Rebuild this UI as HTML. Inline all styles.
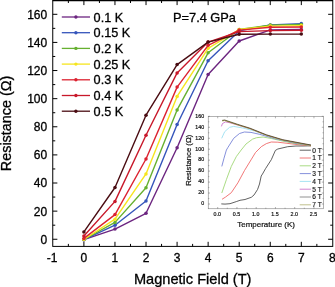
<!DOCTYPE html>
<html><head><meta charset="utf-8"><title>chart</title>
<style>html,body{margin:0;padding:0;background:#fff;}body{width:335px;height:287px;overflow:hidden;font-family:"Liberation Sans",sans-serif;}</style></head>
<body>
<svg width="335" height="287" viewBox="0 0 335 287" style="display:block;will-change:transform;transform:translateZ(0);font-family:'Liberation Sans',sans-serif">
<rect width="335" height="287" fill="#fff"/>
<rect x="208.2" y="116.5" width="115.40000000000003" height="92.30000000000001" fill="#fff" stroke="#666" stroke-width="0.5"/>
<path d="M217.70 208.8v-1.8M217.70 116.5v1.8M227.32 208.8v-1.1M227.32 116.5v1.1M236.95 208.8v-1.8M236.95 116.5v1.8M246.57 208.8v-1.1M246.57 116.5v1.1M256.20 208.8v-1.8M256.20 116.5v1.8M265.82 208.8v-1.1M265.82 116.5v1.1M275.45 208.8v-1.8M275.45 116.5v1.8M285.07 208.8v-1.1M285.07 116.5v1.1M294.70 208.8v-1.8M294.70 116.5v1.8M304.32 208.8v-1.1M304.32 116.5v1.1M313.95 208.8v-1.8M313.95 116.5v1.8M208.2 204.00h1.8M323.6 204.00h-1.8M208.2 198.52h1.1M323.6 198.52h-1.1M208.2 193.04h1.8M323.6 193.04h-1.8M208.2 187.56h1.1M323.6 187.56h-1.1M208.2 182.08h1.8M323.6 182.08h-1.8M208.2 176.60h1.1M323.6 176.60h-1.1M208.2 171.12h1.8M323.6 171.12h-1.8M208.2 165.64h1.1M323.6 165.64h-1.1M208.2 160.16h1.8M323.6 160.16h-1.8M208.2 154.68h1.1M323.6 154.68h-1.1M208.2 149.20h1.8M323.6 149.20h-1.8M208.2 143.72h1.1M323.6 143.72h-1.1M208.2 138.24h1.8M323.6 138.24h-1.8M208.2 132.76h1.1M323.6 132.76h-1.1M208.2 127.28h1.8M323.6 127.28h-1.8M208.2 121.80h1.1M323.6 121.80h-1.1M208.2 116.32h1.8M323.6 116.32h-1.8" stroke="#666" stroke-width="0.5" fill="none"/>
<g font-size="5.3" fill="#111" stroke="#111" stroke-width="0.2">
<text x="204.2" y="205.30" text-anchor="end">0</text>
<text x="204.2" y="194.34" text-anchor="end">20</text>
<text x="204.2" y="183.38" text-anchor="end">40</text>
<text x="204.2" y="172.42" text-anchor="end">60</text>
<text x="204.2" y="161.46" text-anchor="end">80</text>
<text x="204.2" y="150.50" text-anchor="end">100</text>
<text x="204.2" y="139.54" text-anchor="end">120</text>
<text x="204.2" y="128.58" text-anchor="end">140</text>
<text x="204.2" y="117.62" text-anchor="end">160</text>
<text x="217.30" y="215.6" text-anchor="middle">0.0</text>
<text x="236.55" y="215.6" text-anchor="middle">0.5</text>
<text x="255.80" y="215.6" text-anchor="middle">1.0</text>
<text x="275.05" y="215.6" text-anchor="middle">1.5</text>
<text x="294.30" y="215.6" text-anchor="middle">2.0</text>
<text x="313.55" y="215.6" text-anchor="middle">2.5</text>
</g>
<text x="266.1" y="227.1" font-size="8.0" text-anchor="middle" fill="#111" stroke="#111" stroke-width="0.2">Temperature (K)</text>
<text transform="translate(190.5,160.3) rotate(-90)" font-size="7.7" text-anchor="middle" fill="#111" stroke="#111" stroke-width="0.2">Resistance (Ω)</text>
<path d="M221.3 203.9 L225.0 204.1 L230.0 203.7 L236.3 201.6 L240.0 200.3 L245.0 199.5 L251.3 197.3 L254.0 195.0 L257.6 189.4 L259.5 184.0 L261.2 176.0 L262.5 174.0 L265.5 168.7 L271.3 159.7 L275.4 150.4 L277.8 149.0 L287.7 146.7 L296.0 146.0 L303.0 146.0 L311.0 145.8" stroke="#3a3a3a" stroke-width="0.8" fill="none" stroke-linejoin="round"/>
<path d="M222.0 199.3 L225.6 197.0 L231.3 192.7 L237.9 182.8 L244.5 170.5 L251.0 159.9 L255.5 152.5 L261.4 146.6 L266.4 143.6 L271.3 142.0 L277.8 142.2 L286.1 143.2 L299.3 144.8 L311.0 145.8" stroke="#ee5555" stroke-width="0.8" fill="none" stroke-linejoin="round"/>
<path d="M221.8 193.0 L226.4 179.6 L231.3 166.4 L236.3 156.6 L241.2 150.0 L246.0 144.0 L252.6 139.1 L256.6 137.7 L263.1 137.0 L271.3 138.5 L282.8 141.1 L294.3 143.4 L311.0 145.6" stroke="#94d264" stroke-width="0.8" fill="none" stroke-linejoin="round"/>
<path d="M221.8 166.4 L224.0 158.2 L226.4 150.0 L228.0 147.3 L233.7 138.3 L239.5 133.5 L244.4 132.0 L251.0 132.4 L259.9 134.4 L274.6 138.6 L294.3 143.0 L311.0 145.5" stroke="#6674d2" stroke-width="0.8" fill="none" stroke-linejoin="round"/>
<path d="M221.7 138.3 L224.7 131.7 L229.6 127.3 L233.7 126.4 L242.8 128.0 L254.3 130.9 L266.4 135.3 L282.8 140.4 L311.0 145.4" stroke="#8fdcf0" stroke-width="0.8" fill="none" stroke-linejoin="round"/>
<path d="M221.4 126.4 L222.5 123.5 L225.5 121.9 L230.0 122.8 L237.8 125.1 L250.0 128.7 L266.4 135.1 L282.8 140.1 L311.0 145.3" stroke="#c565c5" stroke-width="0.8" fill="none" stroke-linejoin="round"/>
<path d="M222.2 120.9 L224.7 120.5 L237.8 124.9 L250.0 128.7 L266.4 135.3 L282.8 140.2 L305.0 144.4 L311.0 145.5" stroke="#a8a040" stroke-width="0.9" fill="none"/>
<path d="M222.2 120.4 L224.7 120.0 L237.8 124.4 L250.0 128.2 L266.4 134.8 L282.8 139.7 L305.0 143.9 L311.0 145.0" stroke="#3c3418" stroke-width="0.7" fill="none"/>
<g font-size="6.6" fill="#111">
<path d="M299.7 150.20H310.9" stroke="#3a3a3a" stroke-width="0.8"/>
<text x="312.3" y="152.55" stroke="#111" stroke-width="0.15">0 T</text>
<path d="M299.7 158.00H310.9" stroke="#ee5555" stroke-width="0.8"/>
<text x="312.3" y="160.35" stroke="#111" stroke-width="0.15">1 T</text>
<path d="M299.7 165.80H310.9" stroke="#94d264" stroke-width="0.8"/>
<text x="312.3" y="168.15" stroke="#111" stroke-width="0.15">2 T</text>
<path d="M299.7 173.60H310.9" stroke="#6674d2" stroke-width="0.8"/>
<text x="312.3" y="175.95" stroke="#111" stroke-width="0.15">3 T</text>
<path d="M299.7 181.40H310.9" stroke="#8fdcf0" stroke-width="0.8"/>
<text x="312.3" y="183.75" stroke="#111" stroke-width="0.15">4 T</text>
<path d="M299.7 189.20H310.9" stroke="#c565c5" stroke-width="0.8"/>
<text x="312.3" y="191.55" stroke="#111" stroke-width="0.15">5 T</text>
<path d="M299.7 197.00H310.9" stroke="#777777" stroke-width="0.8"/>
<text x="312.3" y="199.35" stroke="#111" stroke-width="0.15">6 T</text>
<path d="M299.7 204.80H310.9" stroke="#b0b070" stroke-width="0.8"/>
<text x="312.3" y="207.15" stroke="#111" stroke-width="0.15">7 T</text>
</g>
<rect x="52.75" y="0.5" width="280.0" height="245.9" fill="none" stroke="#000" stroke-width="1"/>
<path d="M52.75 0.6H332.75" stroke="#000" stroke-width="1.2"/>
<path d="M68.37 246.4v-2.5M68.37 0.5v2.5M83.90 246.4v-4.6M83.90 0.5v4.6M99.43 246.4v-2.5M99.43 0.5v2.5M114.96 246.4v-4.6M114.96 0.5v4.6M130.49 246.4v-2.5M130.49 0.5v2.5M146.02 246.4v-4.6M146.02 0.5v4.6M161.55 246.4v-2.5M161.55 0.5v2.5M177.08 246.4v-4.6M177.08 0.5v4.6M192.61 246.4v-2.5M192.61 0.5v2.5M208.14 246.4v-4.6M208.14 0.5v4.6M223.67 246.4v-2.5M223.67 0.5v2.5M239.20 246.4v-4.6M239.20 0.5v4.6M254.73 246.4v-2.5M254.73 0.5v2.5M270.26 246.4v-4.6M270.26 0.5v4.6M285.79 246.4v-2.5M285.79 0.5v2.5M301.32 246.4v-4.6M301.32 0.5v4.6M316.85 246.4v-2.5M316.85 0.5v2.5M52.75 239.25h4.6M332.75 239.25h-4.6M52.75 225.19h2.5M332.75 225.19h-2.5M52.75 211.13h4.6M332.75 211.13h-4.6M52.75 197.07h2.5M332.75 197.07h-2.5M52.75 183.01h4.6M332.75 183.01h-4.6M52.75 168.95h2.5M332.75 168.95h-2.5M52.75 154.90h4.6M332.75 154.90h-4.6M52.75 140.84h2.5M332.75 140.84h-2.5M52.75 126.78h4.6M332.75 126.78h-4.6M52.75 112.72h2.5M332.75 112.72h-2.5M52.75 98.66h4.6M332.75 98.66h-4.6M52.75 84.60h2.5M332.75 84.60h-2.5M52.75 70.54h4.6M332.75 70.54h-4.6M52.75 56.48h2.5M332.75 56.48h-2.5M52.75 42.42h4.6M332.75 42.42h-4.6M52.75 28.37h2.5M332.75 28.37h-2.5M52.75 14.31h4.6M332.75 14.31h-4.6" stroke="#000" stroke-width="1" fill="none"/>
<g font-size="12" fill="#000" stroke="#000" stroke-width="0.3">
<text x="47.2" y="243.65" text-anchor="end">0</text>
<text x="47.2" y="215.53" text-anchor="end">20</text>
<text x="47.2" y="187.41" text-anchor="end">40</text>
<text x="47.2" y="159.30" text-anchor="end">60</text>
<text x="47.2" y="131.18" text-anchor="end">80</text>
<text x="47.2" y="103.06" text-anchor="end">100</text>
<text x="47.2" y="74.94" text-anchor="end">120</text>
<text x="47.2" y="46.82" text-anchor="end">140</text>
<text x="47.2" y="18.71" text-anchor="end">160</text>
<text x="52.14" y="261.8" text-anchor="middle">-1</text>
<text x="83.90" y="261.8" text-anchor="middle">0</text>
<text x="114.96" y="261.8" text-anchor="middle">1</text>
<text x="146.02" y="261.8" text-anchor="middle">2</text>
<text x="177.08" y="261.8" text-anchor="middle">3</text>
<text x="208.14" y="261.8" text-anchor="middle">4</text>
<text x="239.20" y="261.8" text-anchor="middle">5</text>
<text x="270.26" y="261.8" text-anchor="middle">6</text>
<text x="301.32" y="261.8" text-anchor="middle">7</text>
<text x="332.38" y="261.8" text-anchor="middle">8</text>
</g>
<text x="192.7" y="283.7" font-size="14.6" text-anchor="middle" stroke="#000" stroke-width="0.3">Magnetic Field (T)</text>
<text transform="translate(11,123.4) rotate(-90)" font-size="14.4" text-anchor="middle" stroke="#000" stroke-width="0.3">Resistance (Ω)</text>
<text x="173.0" y="21.5" font-size="12.8" stroke="#000" stroke-width="0.3">P=7.4 GPa</text>
<path d="M83.9 239.7 L115.0 229.1 L146.0 213.3 L177.1 147.7 L208.1 74.5 L239.2 41.0 L270.3 29.9 L301.3 29.5" stroke="#6c2580" stroke-width="1.4" fill="none" stroke-linejoin="round"/>
<circle cx="83.9" cy="239.7" r="1.75" fill="#6c2580"/>
<circle cx="115.0" cy="229.1" r="1.75" fill="#6c2580"/>
<circle cx="146.0" cy="213.3" r="1.75" fill="#6c2580"/>
<circle cx="177.1" cy="147.7" r="1.75" fill="#6c2580"/>
<circle cx="208.1" cy="74.5" r="1.75" fill="#6c2580"/>
<circle cx="239.2" cy="41.0" r="1.75" fill="#6c2580"/>
<circle cx="270.3" cy="29.9" r="1.75" fill="#6c2580"/>
<circle cx="301.3" cy="29.5" r="1.75" fill="#6c2580"/>
<path d="M83.9 239.7 L115.0 225.2 L146.0 201.0 L177.1 124.5 L208.1 60.8 L239.2 30.9 L270.3 24.9 L301.3 23.6" stroke="#3555bb" stroke-width="1.4" fill="none" stroke-linejoin="round"/>
<circle cx="83.9" cy="239.7" r="1.75" fill="#3555bb"/>
<circle cx="115.0" cy="225.2" r="1.75" fill="#3555bb"/>
<circle cx="146.0" cy="201.0" r="1.75" fill="#3555bb"/>
<circle cx="177.1" cy="124.5" r="1.75" fill="#3555bb"/>
<circle cx="208.1" cy="60.8" r="1.75" fill="#3555bb"/>
<circle cx="239.2" cy="30.9" r="1.75" fill="#3555bb"/>
<circle cx="270.3" cy="24.9" r="1.75" fill="#3555bb"/>
<circle cx="301.3" cy="23.6" r="1.75" fill="#3555bb"/>
<path d="M83.9 239.5 L115.0 222.4 L146.0 187.8 L177.1 109.9 L208.1 52.8 L239.2 29.5 L270.3 25.1 L301.3 24.4" stroke="#66b030" stroke-width="1.4" fill="none" stroke-linejoin="round"/>
<circle cx="83.9" cy="239.5" r="1.75" fill="#66b030"/>
<circle cx="115.0" cy="222.4" r="1.75" fill="#66b030"/>
<circle cx="146.0" cy="187.8" r="1.75" fill="#66b030"/>
<circle cx="177.1" cy="109.9" r="1.75" fill="#66b030"/>
<circle cx="208.1" cy="52.8" r="1.75" fill="#66b030"/>
<circle cx="239.2" cy="29.5" r="1.75" fill="#66b030"/>
<circle cx="270.3" cy="25.1" r="1.75" fill="#66b030"/>
<circle cx="301.3" cy="24.4" r="1.75" fill="#66b030"/>
<path d="M83.9 239.5 L115.0 219.2 L146.0 173.9 L177.1 96.4 L208.1 48.3 L239.2 29.5 L270.3 26.1 L301.3 25.6" stroke="#f6e51e" stroke-width="1.4" fill="none" stroke-linejoin="round"/>
<circle cx="83.9" cy="239.5" r="1.75" fill="#f6e51e"/>
<circle cx="115.0" cy="219.2" r="1.75" fill="#f6e51e"/>
<circle cx="146.0" cy="173.9" r="1.75" fill="#f6e51e"/>
<circle cx="177.1" cy="96.4" r="1.75" fill="#f6e51e"/>
<circle cx="208.1" cy="48.3" r="1.75" fill="#f6e51e"/>
<circle cx="239.2" cy="29.5" r="1.75" fill="#f6e51e"/>
<circle cx="270.3" cy="26.1" r="1.75" fill="#f6e51e"/>
<circle cx="301.3" cy="25.6" r="1.75" fill="#f6e51e"/>
<path d="M83.9 238.4 L115.0 214.6 L146.0 159.0 L177.1 87.1 L208.1 45.3 L239.2 30.1 L270.3 27.2 L301.3 27.0" stroke="#dc2230" stroke-width="1.4" fill="none" stroke-linejoin="round"/>
<circle cx="83.9" cy="238.4" r="1.75" fill="#dc2230"/>
<circle cx="115.0" cy="214.6" r="1.75" fill="#dc2230"/>
<circle cx="146.0" cy="159.0" r="1.75" fill="#dc2230"/>
<circle cx="177.1" cy="87.1" r="1.75" fill="#dc2230"/>
<circle cx="208.1" cy="45.3" r="1.75" fill="#dc2230"/>
<circle cx="239.2" cy="30.1" r="1.75" fill="#dc2230"/>
<circle cx="270.3" cy="27.2" r="1.75" fill="#dc2230"/>
<circle cx="301.3" cy="27.0" r="1.75" fill="#dc2230"/>
<path d="M83.9 236.0 L115.0 201.4 L146.0 135.2 L177.1 72.9 L208.1 42.1 L239.2 31.6 L270.3 30.6 L301.3 30.3" stroke="#c8182a" stroke-width="1.4" fill="none" stroke-linejoin="round"/>
<circle cx="83.9" cy="236.0" r="1.75" fill="#c8182a"/>
<circle cx="115.0" cy="201.4" r="1.75" fill="#c8182a"/>
<circle cx="146.0" cy="135.2" r="1.75" fill="#c8182a"/>
<circle cx="177.1" cy="72.9" r="1.75" fill="#c8182a"/>
<circle cx="208.1" cy="42.1" r="1.75" fill="#c8182a"/>
<circle cx="239.2" cy="31.6" r="1.75" fill="#c8182a"/>
<circle cx="270.3" cy="30.6" r="1.75" fill="#c8182a"/>
<circle cx="301.3" cy="30.3" r="1.75" fill="#c8182a"/>
<path d="M83.9 231.9 L115.0 187.5 L146.0 115.2 L177.1 64.6 L208.1 42.1 L239.2 34.3 L270.3 34.1 L301.3 34.1" stroke="#4a0c12" stroke-width="1.4" fill="none" stroke-linejoin="round"/>
<circle cx="83.9" cy="231.9" r="1.75" fill="#4a0c12"/>
<circle cx="115.0" cy="187.5" r="1.75" fill="#4a0c12"/>
<circle cx="146.0" cy="115.2" r="1.75" fill="#4a0c12"/>
<circle cx="177.1" cy="64.6" r="1.75" fill="#4a0c12"/>
<circle cx="208.1" cy="42.1" r="1.75" fill="#4a0c12"/>
<circle cx="239.2" cy="34.3" r="1.75" fill="#4a0c12"/>
<circle cx="270.3" cy="34.1" r="1.75" fill="#4a0c12"/>
<circle cx="301.3" cy="34.1" r="1.75" fill="#4a0c12"/>
<g font-size="12.7" fill="#000" stroke-width="0.3">
<path d="M61.8 17.00H90" stroke="#6c2580" stroke-width="1.3"/><circle cx="75.9" cy="17.00" r="1.7" fill="#6c2580"/>
<text x="93.6" y="21.50" stroke="#000">0.1 K</text>
<path d="M61.8 32.70H90" stroke="#3555bb" stroke-width="1.3"/><circle cx="75.9" cy="32.70" r="1.7" fill="#3555bb"/>
<text x="93.6" y="37.20" stroke="#000">0.15 K</text>
<path d="M61.8 48.40H90" stroke="#66b030" stroke-width="1.3"/><circle cx="75.9" cy="48.40" r="1.7" fill="#66b030"/>
<text x="93.6" y="52.90" stroke="#000">0.2 K</text>
<path d="M61.8 64.10H90" stroke="#f6e51e" stroke-width="1.3"/><circle cx="75.9" cy="64.10" r="1.7" fill="#f6e51e"/>
<text x="93.6" y="68.60" stroke="#000">0.25 K</text>
<path d="M61.8 79.80H90" stroke="#dc2230" stroke-width="1.3"/><circle cx="75.9" cy="79.80" r="1.7" fill="#dc2230"/>
<text x="93.6" y="84.30" stroke="#000">0.3 K</text>
<path d="M61.8 95.50H90" stroke="#c8182a" stroke-width="1.3"/><circle cx="75.9" cy="95.50" r="1.7" fill="#c8182a"/>
<text x="93.6" y="100.00" stroke="#000">0.4 K</text>
<path d="M61.8 111.20H90" stroke="#4a0c12" stroke-width="1.3"/><circle cx="75.9" cy="111.20" r="1.7" fill="#4a0c12"/>
<text x="93.6" y="115.70" stroke="#000">0.5 K</text>
</g>
</svg>
</body></html>
